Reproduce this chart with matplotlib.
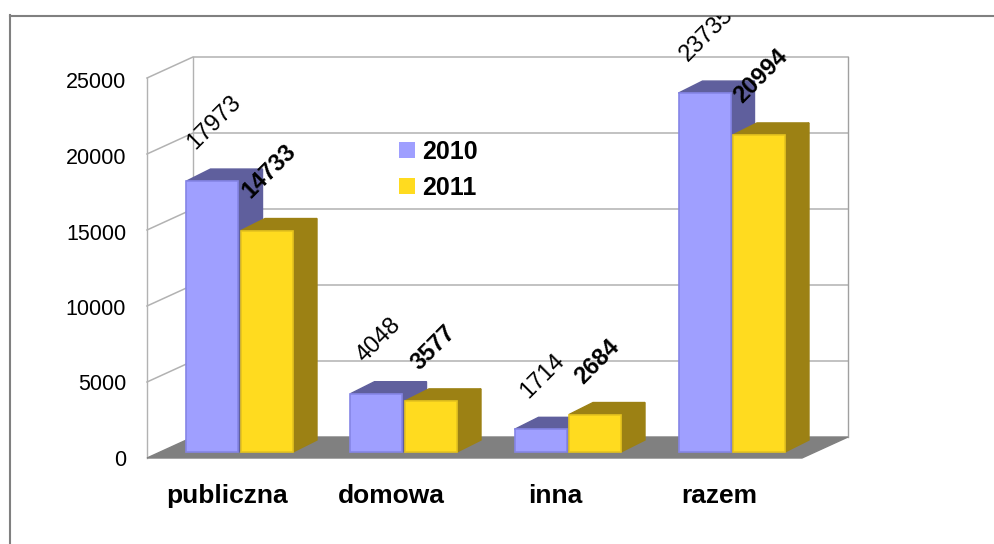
import matplotlib
matplotlib.use("Agg")
import matplotlib.pyplot as plt
from matplotlib.patches import Polygon
import numpy as np

plt.rcParams['font.family'] = ['Liberation Sans', 'DejaVu Sans']

categories = ["publiczna", "domowa", "inna", "razem"]
values_2010 = [17973, 4048, 1714, 23735]
values_2011 = [14733, 3577, 2684, 20994]
yticks = [0, 5000, 10000, 15000, 20000, 25000]

W, H = 994, 544
PX_X = 164.0           # pixels per category
PX_Y = 76.35 / 5000    # bars, pixels per value
PX_Y_WALL = 76 / 5000
X0 = 240               # pixel of first category
BASE = 455.5           # pixel of value 0 in the bar plane
BAR_FLOOR = 3.5 / PX_Y # bars stand a little above value 0


def to_frac(px, py):
    return px / W, 1 - py / H


fig = plt.figure(figsize=(W / 100, H / 100), dpi=100)

# walls, floor and the value axis
L, R, T, B = 147, 802, 458 - 25000 * PX_Y_WALL, 458
wall = fig.add_axes([L / W, 1 - B / H, (R - L) / W, (B - T) / H])
wall.set_xlim((L - X0) / PX_X, (R - X0) / PX_X)
wall.set_ylim(0, 25000)
for s in wall.spines.values():
    s.set_visible(False)
wall.patch.set_visible(False)

dx = 46 / PX_X
dy = 21 / PX_Y_WALL
xl, xr = wall.get_xlim()
grid = "#b2b2b2"
for t in yticks[1:]:
    wall.plot([xl, xl + dx, xr + dx], [t, t + dy, t + dy], color=grid, lw=1.1, clip_on=False, zorder=1)
wall.plot([xl, xl], [0, 25000], color=grid, lw=1, clip_on=False, zorder=1)
wall.plot([xl + dx, xl + dx], [dy, 25000 + dy], color=grid, lw=1, clip_on=False, zorder=1)
wall.plot([xr + dx, xr + dx], [dy, 25000 + dy], color="#a0a0a0", lw=1, clip_on=False, zorder=1)
wall.add_patch(Polygon([(xl, 0), (xr, 0), (xr + dx, dy), (xl + dx, dy)], color="#808080", clip_on=False, zorder=2))

# tick labels run a touch tighter than the gridlines in the original
wall.set_yticks(np.array(yticks) * 75.5 / 76)
wall.set_yticklabels([str(t) for t in yticks], fontsize=15.5, color="black")
wall.tick_params(axis='y', length=0, pad=15)
wall.set_xticks(np.arange(len(categories)) - 12.5 / PX_X)
wall.set_xticklabels(categories, fontsize=19, fontweight="bold", color="black")
wall.tick_params(axis='x', length=0, pad=19)

# bars, in their own axes that also carry the grey frame
FL, FT = 10, 15.5
ax = fig.add_axes([FL / W, 0, (W - FL) / W, (H - FT) / H])
ax.set_xlim((FL - X0) / PX_X, (W - X0) / PX_X)
ax.set_ylim((BASE - H) / PX_Y, (BASE - FT) / PX_Y)
ax.patch.set_visible(False)
ax.set_xticks([])
ax.set_yticks([])
ax.spines['right'].set_visible(False)
ax.spines['bottom'].set_visible(False)
for side in ['left', 'top']:
    ax.spines[side].set_color("#808080")
    ax.spines[side].set_linewidth(1.5)

bar_w = 52 / PX_X
depth_x = 24 / PX_X
depth_y = 12 / PX_Y


def draw_series(x, vals, front, edge, side, z):
    for xi, v in zip(x, vals):
        left = xi - bar_w / 2
        right = xi + bar_w / 2
        ax.add_patch(Polygon([(right, BAR_FLOOR), (right + depth_x, BAR_FLOOR + depth_y),
                              (right + depth_x, v + depth_y), (right, v)], color=side, zorder=z))
        ax.add_patch(Polygon([(left, v), (right, v), (right + depth_x, v + depth_y), (left + depth_x, v + depth_y)],
                             color=side, zorder=z))
    heights = [v - BAR_FLOOR for v in vals]
    return ax.bar(x, heights, bar_w, bottom=BAR_FLOOR, color=front, edgecolor=edge, linewidth=1.2, zorder=z + 0.5)


x = np.arange(len(categories))
x1 = x - 27.5 / PX_X
x2 = x + 27 / PX_X
b1 = draw_series(x1, values_2010, "#9f9fff", "#8585e6", "#5f5f9d", 3)
b2 = draw_series(x2, values_2011, "#ffdb1f", "#e6c41e", "#9c8114", 4)

for xs, vals, weight in [(x1, values_2010, "normal"), (x2, values_2011, "bold")]:
    for xi, v in zip(xs, vals):
        label = str(v)
        # longer labels sit further above the bar
        ax.annotate(label, (xi, v), xytext=(2, 29 + 6 * len(label)), textcoords="offset pixels",
                    rotation=45, rotation_mode="anchor", ha="center", va="center",
                    fontsize=17, fontweight=weight, color="black", clip_on=True, zorder=6)

leg = ax.legend([b1, b2], ["2010", "2011"], loc="upper left",
                bbox_to_anchor=to_frac(389, 130), bbox_transform=fig.transFigure,
                frameon=False, prop={"size": 18, "weight": "bold"},
                handlelength=0.64, handleheight=0.64, handletextpad=0.3,
                labelspacing=0.47, borderpad=0.4, borderaxespad=0)
leg.set_zorder(7)
for h in leg.legend_handles:
    h.set_edgecolor("none")

fig.savefig("out.png", dpi=100)
